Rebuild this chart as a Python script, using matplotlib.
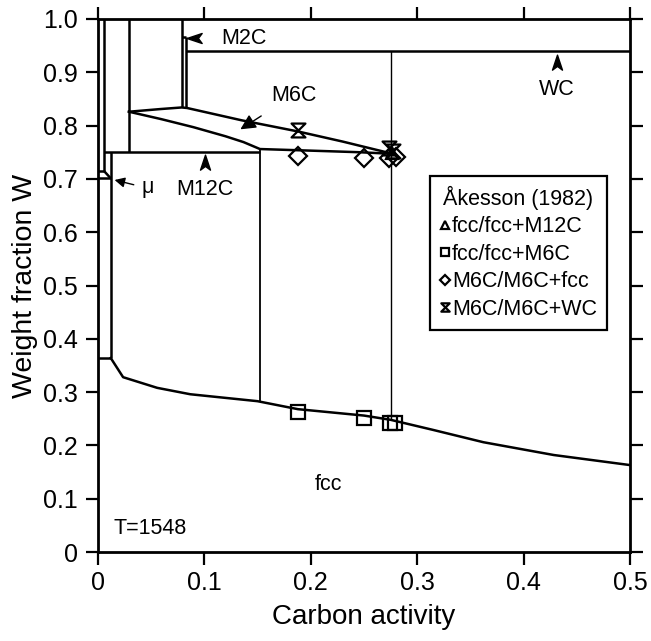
import matplotlib
matplotlib.use("Agg")
import matplotlib.pyplot as plt
from matplotlib.path import Path
import numpy as np

plt.rcParams['font.family'] = ['Liberation Sans', 'DejaVu Sans']

# ---------------- data ----------------
# fcc phase boundary
fcc_x = [0.0124, 0.024, 0.056, 0.087, 0.150, 0.188, 0.250, 0.275, 0.315, 0.362, 0.428, 0.5]
fcc_y = [0.364, 0.328, 0.308, 0.296, 0.283, 0.268, 0.256, 0.248, 0.229, 0.206, 0.182, 0.163]

# M6C lens, upper boundary
m6c_up_x = [0.0295, 0.059, 0.079, 0.084, 0.135, 0.188, 0.230, 0.277]
m6c_up_y = [0.826, 0.831, 0.834, 0.833, 0.810, 0.789, 0.770, 0.747]
# M6C lens, lower boundary
m6c_lo_x = [0.0295, 0.060, 0.090, 0.120, 0.137, 0.1524, 0.200, 0.246, 0.277]
m6c_lo_y = [0.826, 0.812, 0.797, 0.780, 0.769, 0.756, 0.753, 0.750, 0.747]

# straight boundary segments: (x0, x1, y0, y1)
seg_x0 = [0.006, 0.0295, 0.079, 0.083, 0.079, 0.083, 0.275, 0.006, 0.1524, 0.0124, 0.0, 0.0, 0.0, 0.006]
seg_x1 = [0.006, 0.0295, 0.079, 0.083, 0.083, 0.5, 0.275, 0.1524, 0.1524, 0.0124, 0.0124, 0.0124, 0.006, 0.0124]
seg_y0 = [1.0, 1.0, 1.0, 0.967, 0.967, 0.939, 0.939, 0.751, 0.756, 0.751, 0.364, 0.701, 0.715, 0.715]
seg_y1 = [0.715, 0.751, 0.834, 0.833, 0.967, 0.939, 0.248, 0.751, 0.283, 0.364, 0.364, 0.701, 0.715, 0.701]
seg_lw = [1.8, 1.8, 1.8, 1.8, 1.8, 1.8, 1.0, 1.8, 1.3, 1.8, 1.8, 1.8, 1.8, 1.8]

# Akesson (1982) experimental points
sq_x = [0.188, 0.250, 0.274, 0.279]
sq_y = [0.263, 0.251, 0.242, 0.242]
dia_x = [0.188, 0.250, 0.273, 0.280]
dia_y = [0.743, 0.740, 0.740, 0.742]
hg_x = [0.188, 0.273, 0.277]
hg_y = [0.792, 0.758, 0.752]
tri_x = [0.276]
tri_y = [0.748]

xticks = [0, 0.1, 0.2, 0.3, 0.4, 0.5]
xticklabels = ["0", "0.1", "0.2", "0.3", "0.4", "0.5"]
yticks = [0, 0.1, 0.2, 0.3, 0.4, 0.5, 0.6, 0.7, 0.8, 0.9, 1.0]
yticklabels = ["0", "0.1", "0.2", "0.3", "0.4", "0.5", "0.6", "0.7", "0.8", "0.9", "1.0"]

# ---------------- figure ----------------
fig = plt.figure(figsize=(6.51, 6.41), dpi=100)
ax = fig.add_axes([0.1498, 0.1388, 0.8187, 0.8316])
ax.set_xlim(0, 0.5)
ax.set_ylim(0, 1.0)

lc = 'black'
ax.plot(fcc_x, fcc_y, color=lc, lw=1.8)
ax.plot(m6c_up_x, m6c_up_y, color=lc, lw=1.8)
ax.plot(m6c_lo_x, m6c_lo_y, color=lc, lw=1.8)
for x0, x1, y0, y1, lw in zip(seg_x0, seg_x1, seg_y0, seg_y1, seg_lw):
    ax.plot([x0, x1], [y0, y1], color=lc, lw=lw, solid_capstyle='butt')

# hourglass marker
hourglass = Path([(-1, 1), (1, 1), (-1, -1), (1, -1), (-1, 1)],
                 [Path.MOVETO, Path.LINETO, Path.LINETO, Path.LINETO, Path.CLOSEPOLY])

mk = dict(linestyle='none', markerfacecolor='none', markeredgecolor='black', markeredgewidth=1.6)
ax.plot(tri_x, tri_y, marker='^', markersize=9, label='fcc/fcc+M12C', **mk)
ax.plot(sq_x, sq_y, marker='s', markersize=10, label='fcc/fcc+M6C', **mk)
ax.plot(dia_x, dia_y, marker='D', markersize=9, label='M6C/M6C+fcc', **mk)
ax.plot(hg_x, hg_y, marker=hourglass, markersize=10, label='M6C/M6C+WC', **mk)

# arrowhead markers
def head(angle):
    v = np.array([(1.0, 0.0), (-0.8, 0.6), (-0.35, 0.0), (-0.8, -0.6), (1.0, 0.0)])
    a = np.deg2rad(angle)
    R = np.array([[np.cos(a), -np.sin(a)], [np.sin(a), np.cos(a)]])
    v = v @ R.T
    return Path(v, [Path.MOVETO, Path.LINETO, Path.LINETO, Path.LINETO, Path.CLOSEPOLY])

ax.plot([0.091], [0.964], marker=head(180), markersize=12, color='black', linestyle='none')
ax.plot([0.101], [0.730], marker=head(90), markersize=12, color='black', linestyle='none')
ax.plot([0.431], [0.917], marker=head(90), markersize=12, color='black', linestyle='none')

fs_lab = 15.5
ax.text(0.137, 0.963, "M2C", fontsize=fs_lab, ha='center', va='center')
ax.text(0.101, 0.680, "M12C", fontsize=fs_lab, ha='center', va='center')
ax.text(0.431, 0.867, "WC", fontsize=fs_lab, ha='center', va='center')
ax.text(0.047, 0.683, "μ", fontsize=fs_lab, ha='center', va='center')
ax.text(0.217, 0.126, "fcc", fontsize=fs_lab, ha='center', va='center')
ax.text(0.015, 0.045, "T=1548", fontsize=fs_lab, ha='left', va='center')

ax.annotate("M6C", xy=(0.134, 0.793), xytext=(0.184, 0.857), fontsize=fs_lab,
            ha='center', va='center',
            arrowprops=dict(arrowstyle='-|>,head_length=0.6,head_width=0.3', color='black', lw=1.0,
                            shrinkA=10, shrinkB=0))
ax.annotate("", xy=(0.016, 0.698), xytext=(0.034, 0.689),
            arrowprops=dict(arrowstyle='-|>,head_length=0.6,head_width=0.3', color='black', lw=1.0,
                            shrinkA=0, shrinkB=0))

# axes styling
ax.set_xticks(xticks)
ax.set_xticklabels(xticklabels)
ax.set_yticks(yticks)
ax.set_yticklabels(yticklabels)
ax.tick_params(direction='out', length=9, width=1.6, labelsize=18, pad=5,
               top=True, right=True, labeltop=False, labelright=False)
for s in ax.spines.values():
    s.set_linewidth(2.0)
ax.set_xlabel("Carbon activity", fontsize=20, labelpad=6)
ax.set_ylabel("Weight fraction W", fontsize=20.5, labelpad=4)

leg = ax.legend(title="Åkesson (1982)", loc='upper left', bbox_to_anchor=(0.623, 0.705),
                fontsize=15.5, title_fontsize=15.5, frameon=True, fancybox=False,
                edgecolor='black', handlelength=0.5, handletextpad=0.1, markerscale=0.6,
                borderpad=0.45, labelspacing=0.3, borderaxespad=0)
leg.get_frame().set_linewidth(1.6)
leg.get_frame().set_alpha(1)

fig.savefig("out.png", dpi=100)
